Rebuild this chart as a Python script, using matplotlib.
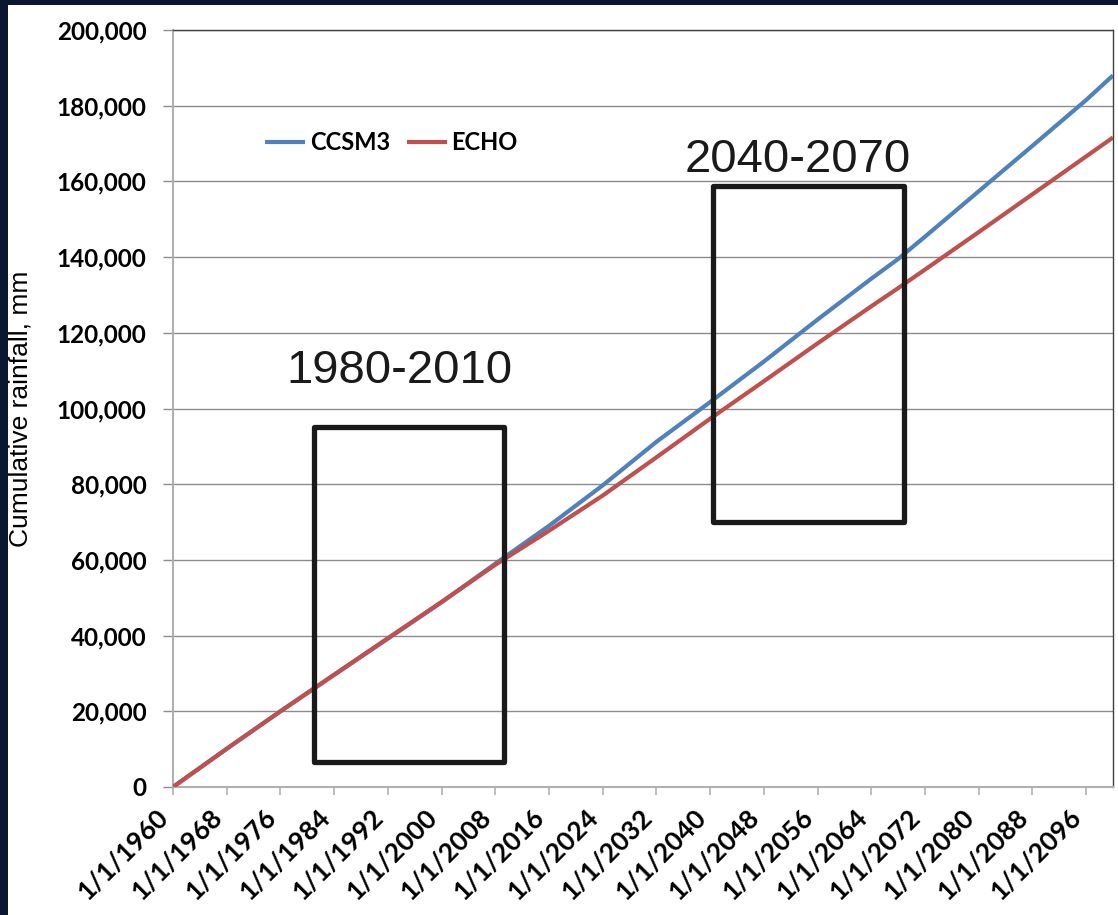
import matplotlib
matplotlib.use("Agg")
import matplotlib.pyplot as plt
from matplotlib.patches import Rectangle
from matplotlib.ticker import FuncFormatter, FixedLocator

# ---- data ----
years = [1960, 1968, 1976, 1984, 1992, 2000, 2008, 2016, 2024, 2032, 2040,
         2048, 2056, 2064, 2068, 2072, 2080, 2088, 2096, 2100]
ccsm3 = [0, 10100, 20000, 29600, 39200, 48800, 59000, 69000, 79700, 91200, 101700,
         112400, 123500, 134300, 139500, 145400, 157400, 169400, 181500, 188000]
echo = [0, 10100, 20000, 29700, 39300, 48900, 58700, 67700, 77000, 87100, 97300,
        107200, 117200, 127000, 131800, 136700, 146600, 156600, 166600, 171600]

series_names = ["CCSM3", "ECHO"]
series_colors = ["#4F81BD", "#C0504D"]

xtick_years = list(range(1960, 2100, 8))
xtick_labels = [f"1/1/{y}" for y in xtick_years]
yticks = list(range(0, 200001, 20000))

boxes = [  # (x0, x1, y0, y1)
    (1981.0, 2009.3, 6700, 95200),
    (2040.4, 2068.8, 69900, 158700),
]
box_labels = ["1980-2010", "2040-2070"]
box_label_pos = [(1993.7, 109900), (2053.1, 165700)]

W, H = 1118, 915
fig = plt.figure(figsize=(W / 100, H / 100), dpi=100)
fig.patch.set_facecolor("#0b1633")
fig.patches.append(Rectangle((8 / W, 0), 1 - 8 / W, (H - 5) / H,
                             transform=fig.transFigure, facecolor="white",
                             edgecolor="none", zorder=-10))

ax = fig.add_axes([173 / W, (H - 787) / H, (1113 - 173) / W, (787 - 30) / H])
ax.set_facecolor("white")

tickfont = "Lato"

for vals, name, col in zip([ccsm3, echo], series_names, series_colors):
    ax.plot(years, vals, color=col, lw=3, label=name, solid_capstyle="butt", zorder=3)

ax.set_xlim(1960, 2100)
ax.set_ylim(0, 200000)

ax.xaxis.set_major_locator(FixedLocator(xtick_years))
ax.set_xticklabels(xtick_labels, rotation=45, ha="right", fontsize=19,
                   fontweight="bold", family=tickfont)
ax.set_yticks(yticks)
ax.yaxis.set_major_formatter(FuncFormatter(lambda v, p: f"{int(v):,}"))
for lab in ax.get_yticklabels():
    lab.set_fontsize(17.5)
    lab.set_fontweight("bold")
    lab.set_family(tickfont)

ax.tick_params(axis="x", direction="out", length=6, width=1.2, color="#b0b0b0", pad=7)
ax.tick_params(axis="y", direction="out", length=7, width=1.0, color="#8c8c8c", pad=12)

ax.grid(axis="y", color="#8c8c8c", lw=1.0)
ax.set_axisbelow(True)

for s in ["left", "bottom"]:
    ax.spines[s].set_color("#b0b0b0")
    ax.spines[s].set_linewidth(1.5)
for s in ["top", "right"]:
    ax.spines[s].set_color("#404040")
    ax.spines[s].set_linewidth(1.0)

ax.set_ylabel("Cumulative rainfall, mm", fontsize=19, family="Liberation Sans")
ax.yaxis.set_label_coords(-0.149, 0.5)

for (x0, x1, y0, y1) in boxes:
    ax.add_patch(Rectangle((x0, y0), x1 - x0, y1 - y0, fill=False,
                           edgecolor="#1a1a1a", lw=3.8, zorder=4,
                           joinstyle="round"))
for txt, (tx, ty) in zip(box_labels, box_label_pos):
    ax.text(tx, ty, txt, fontsize=34, family="Liberation Sans", color="#1a1a1a",
            ha="center", va="center", zorder=5)

leg = ax.legend(loc="center left", bbox_to_anchor=(0.098, 0.851), ncol=2,
                frameon=False, handlelength=1.7, handletextpad=0.2,
                columnspacing=0.7, borderaxespad=0, borderpad=0,
                prop={"family": tickfont, "weight": "bold", "size": 17})
for line in leg.get_lines():
    line.set_linewidth(3)

fig.savefig("out.png", dpi=100, facecolor=fig.get_facecolor())
